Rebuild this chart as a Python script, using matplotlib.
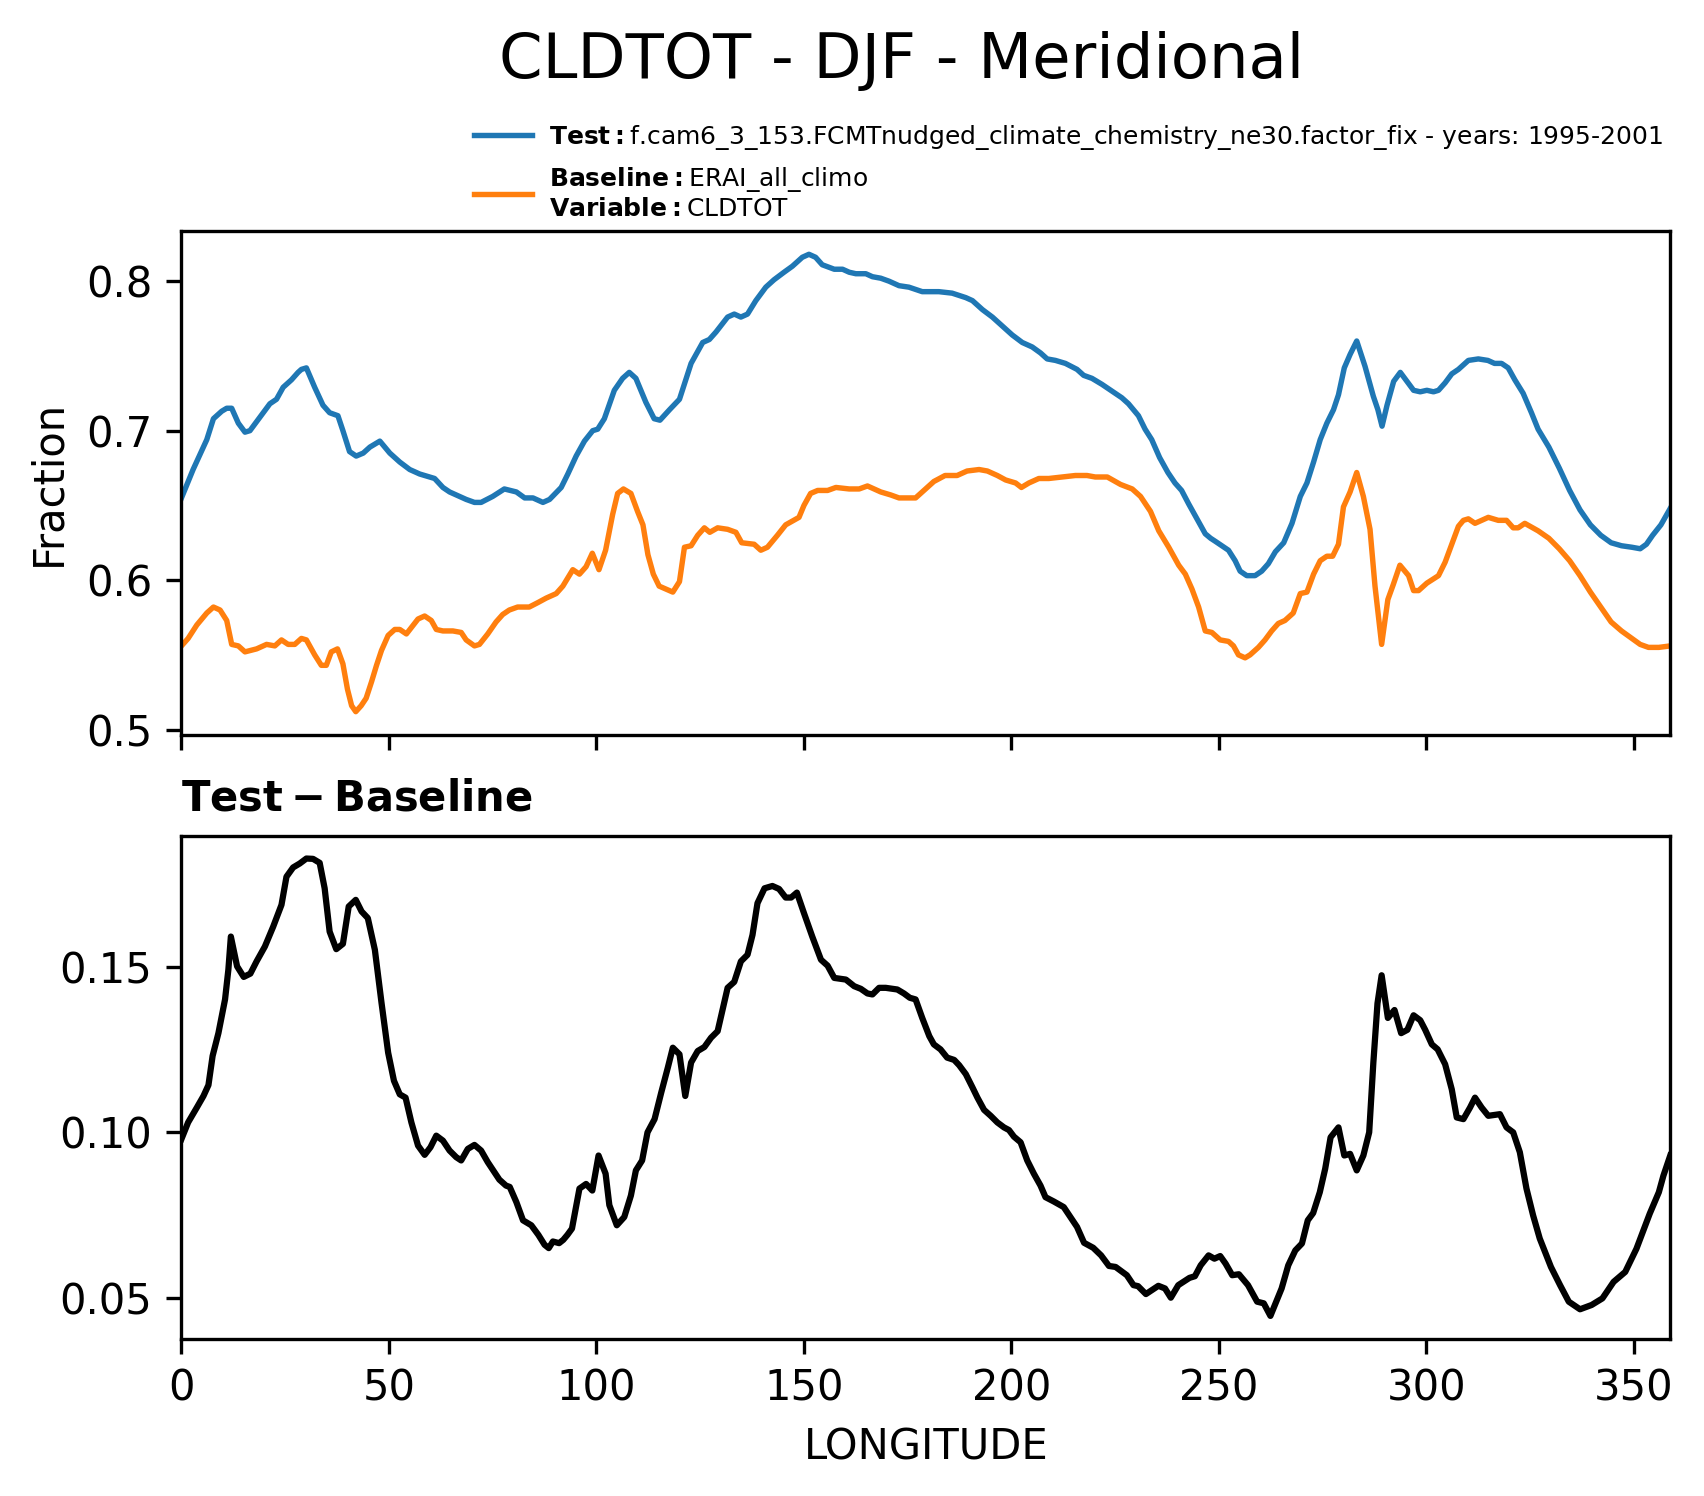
import matplotlib
matplotlib.use("Agg")
import matplotlib.pyplot as plt
import numpy as np

# values
test_lon = [0.0, 2.8, 6.1, 7.7, 9.7, 10.9, 12.1, 13.7, 15.3, 16.5, 18.9, 21.3, 22.9, 24.5,
            26.5, 28.1, 28.9, 30.1, 32.1, 34.1, 35.7, 37.7, 38.9, 40.5, 42.1, 43.8, 45.4,
            47.8, 50.2, 52.6, 55.0, 57.4, 59.8, 61.0, 63.0, 64.6, 67.0, 68.6, 70.6, 72.2,
            75.0, 77.8, 80.7, 82.7, 84.7, 87.1, 88.7, 91.5, 93.1, 95.1, 97.1, 99.1, 100.3,
            101.9, 104.3, 106.3, 107.9, 109.5, 111.9, 113.9, 115.3, 117.6, 120.0, 122.8,
            125.6, 127.2, 128.8, 131.6, 133.2, 134.8, 136.4, 138.4, 140.8, 142.8, 145.2,
            147.2, 149.6, 151.2, 152.8, 154.4, 157.3, 159.3, 160.9, 162.5, 164.9, 166.5,
            168.5, 170.5, 172.9, 175.3, 178.5, 182.5, 185.7, 189.0, 190.6, 193.0, 195.4,
            197.8, 200.2, 202.6, 205.0, 207.0, 208.6, 210.6, 213.0, 215.8, 217.4, 219.4,
            221.8, 223.4, 225.0, 226.6, 228.2, 230.6, 232.2, 233.8, 235.7, 237.7, 239.4,
            241.0, 242.7, 244.7, 246.7, 248.0, 249.1, 250.7, 252.3, 253.9, 255.1, 256.7,
            258.7, 260.3, 261.9, 263.6, 265.6, 267.6, 269.6, 271.2, 272.8, 274.4, 276.0,
            277.6, 278.8, 280.2, 281.6, 283.2, 285.2, 287.2, 288.3, 289.3, 290.5, 292.1,
            293.7, 295.3, 296.9, 298.5, 300.1, 301.7, 302.9, 304.5, 306.1, 307.7, 310.1,
            312.5, 314.8, 316.4, 318.1, 319.7, 321.3, 323.3, 325.3, 326.9, 329.5, 332.0,
            334.5, 337.0, 339.5, 342.0, 344.5, 347.0, 349.5, 351.5, 353.0, 354.5, 356.5,
            358.75]
test_val = [0.655, 0.674, 0.694, 0.708, 0.713, 0.715, 0.715, 0.705, 0.699, 0.700, 0.709,
            0.718, 0.721, 0.729, 0.734, 0.739, 0.741, 0.742, 0.729, 0.717, 0.712, 0.710,
            0.700, 0.686, 0.683, 0.685, 0.689, 0.693, 0.685, 0.679, 0.674, 0.671, 0.669,
            0.668, 0.662, 0.659, 0.656, 0.654, 0.652, 0.652, 0.656, 0.661, 0.659, 0.655,
            0.655, 0.652, 0.654, 0.662, 0.671, 0.683, 0.693, 0.700, 0.701, 0.708, 0.727,
            0.735, 0.739, 0.735, 0.719, 0.708, 0.707, 0.714, 0.721, 0.745, 0.759, 0.761,
            0.766, 0.776, 0.778, 0.776, 0.778, 0.787, 0.796, 0.801, 0.806, 0.810, 0.816,
            0.818, 0.816, 0.811, 0.808, 0.808, 0.806, 0.805, 0.805, 0.803, 0.802, 0.800,
            0.797, 0.796, 0.793, 0.793, 0.792, 0.789, 0.787, 0.781, 0.776, 0.770, 0.764,
            0.759, 0.756, 0.752, 0.748, 0.747, 0.745, 0.741, 0.737, 0.735, 0.731, 0.728,
            0.725, 0.722, 0.718, 0.710, 0.701, 0.694, 0.682, 0.672, 0.665, 0.660, 0.651,
            0.641, 0.631, 0.628, 0.626, 0.623, 0.620, 0.613, 0.606, 0.603, 0.603, 0.606,
            0.611, 0.619, 0.625, 0.638, 0.656, 0.665, 0.679, 0.694, 0.705, 0.714, 0.724,
            0.742, 0.751, 0.760, 0.743, 0.723, 0.714, 0.703, 0.717, 0.733, 0.739, 0.733,
            0.727, 0.726, 0.727, 0.726, 0.727, 0.732, 0.738, 0.741, 0.747, 0.748, 0.747,
            0.745, 0.745, 0.742, 0.734, 0.725, 0.712, 0.701, 0.689, 0.675, 0.660, 0.647,
            0.637, 0.630, 0.625, 0.623, 0.622, 0.621, 0.624, 0.630, 0.637, 0.648]

base_lon = [0.0, 1.6, 3.7, 6.1, 7.7, 9.3, 10.9, 12.1, 13.7, 15.3, 18.1, 20.5, 22.5, 24.1,
            25.7, 27.3, 28.9, 30.1, 32.1, 33.7, 34.9, 36.1, 37.6, 38.9, 40.0, 41.0, 42.0,
            43.3, 44.5, 45.8, 47.0, 48.2, 49.8, 51.4, 52.6, 54.2, 57.0, 58.6, 60.2, 61.4,
            63.0, 65.4, 67.4, 68.6, 70.6, 71.8, 73.8, 75.8, 77.4, 79.0, 81.0, 83.8, 85.9,
            87.9, 90.3, 91.9, 94.3, 95.9, 97.5, 99.0, 100.6, 102.2, 103.9, 105.1, 106.5,
            108.3, 109.9, 111.2, 112.4, 113.7, 115.1, 118.4, 120.0, 121.2, 122.8, 124.4,
            126.0, 127.3, 129.2, 131.6, 133.6, 135.0, 138.0, 139.6, 141.2, 143.6, 145.6,
            148.8, 150.0, 151.6, 153.3, 155.7, 157.7, 160.9, 163.3, 165.3, 168.5, 170.9,
            172.9, 174.9, 176.9, 178.5, 181.3, 184.0, 186.9, 189.3, 192.2, 194.2, 196.6,
            198.6, 201.0, 202.4, 204.2, 206.6, 209.0, 212.2, 215.4, 218.2, 220.2, 223.1,
            226.3, 229.1, 231.1, 233.5, 235.5, 237.9, 240.3, 241.9, 243.5, 245.1, 246.7,
            248.3, 250.3, 252.3, 253.5, 254.7, 256.3, 257.5, 259.5, 261.1, 262.7, 264.3,
            265.9, 267.9, 269.6, 271.2, 272.8, 274.4, 276.0, 277.4, 278.8, 280.0, 281.6,
            283.2, 284.8, 286.4, 287.6, 289.2, 290.7, 292.0, 293.6, 295.7, 296.9, 298.1,
            300.1, 302.9, 304.5, 306.1, 307.7, 308.9, 310.1, 311.7, 314.9, 317.3, 319.3,
            320.9, 322.1, 323.7, 326.9, 329.5, 332.0, 334.5, 337.0, 339.5, 342.0, 344.5,
            347.0, 349.5, 351.5, 353.5, 356.0, 358.75]
base_val = [0.556, 0.561, 0.570, 0.578, 0.582, 0.580, 0.573, 0.557, 0.556, 0.552, 0.554,
            0.557, 0.556, 0.560, 0.557, 0.557, 0.561, 0.560, 0.550, 0.543, 0.543, 0.552,
            0.554, 0.544, 0.527, 0.516, 0.512, 0.516, 0.521, 0.532, 0.543, 0.553, 0.563,
            0.567, 0.567, 0.564, 0.574, 0.576, 0.573, 0.567, 0.566, 0.566, 0.565, 0.560,
            0.556, 0.557, 0.564, 0.572, 0.577, 0.580, 0.582, 0.582, 0.585, 0.588, 0.591,
            0.596, 0.607, 0.604, 0.609, 0.618, 0.607, 0.620, 0.644, 0.658, 0.661, 0.658,
            0.646, 0.637, 0.617, 0.604, 0.596, 0.592, 0.599, 0.622, 0.623, 0.630, 0.635,
            0.632, 0.635, 0.634, 0.632, 0.625, 0.624, 0.620, 0.622, 0.630, 0.637, 0.642,
            0.650, 0.658, 0.660, 0.660, 0.662, 0.661, 0.661, 0.663, 0.659, 0.657, 0.655,
            0.655, 0.655, 0.659, 0.666, 0.670, 0.670, 0.673, 0.674, 0.673, 0.670, 0.667,
            0.665, 0.662, 0.665, 0.668, 0.668, 0.669, 0.670, 0.670, 0.669, 0.669, 0.664,
            0.661, 0.656, 0.646, 0.633, 0.622, 0.610, 0.604, 0.594, 0.582, 0.566, 0.565,
            0.560, 0.559, 0.556, 0.550, 0.548, 0.550, 0.555, 0.560, 0.566, 0.571, 0.573,
            0.578, 0.591, 0.592, 0.604, 0.613, 0.616, 0.616, 0.624, 0.649, 0.659, 0.672,
            0.656, 0.634, 0.596, 0.557, 0.587, 0.597, 0.610, 0.603, 0.593, 0.593, 0.598,
            0.603, 0.612, 0.624, 0.636, 0.640, 0.641, 0.638, 0.642, 0.640, 0.640, 0.635,
            0.635, 0.638, 0.633, 0.628, 0.621, 0.613, 0.603, 0.592, 0.582, 0.572, 0.566,
            0.561, 0.557, 0.555, 0.555, 0.556]

diff_lon = [0.0, 1.6, 3.7, 5.3, 6.5, 7.5, 8.9, 10.5, 11.3, 11.9, 13.4, 15.0, 16.6, 18.1,
            20.1, 22.1, 24.1, 25.3, 26.9, 28.5, 30.1, 31.7, 33.3, 34.5, 35.7, 37.3, 38.9,
            40.3, 42.0, 43.4, 44.9, 46.6, 48.2, 49.8, 51.2, 52.6, 54.0, 55.4, 57.0, 58.6,
            60.0, 61.4, 63.0, 64.6, 66.2, 67.4, 69.0, 70.6, 72.2, 73.8, 75.4, 76.6, 78.2,
            79.1, 80.7, 82.3, 84.3, 86.0, 87.5, 88.5, 89.5, 91.0, 92.0, 93.0, 94.1, 95.9,
            97.5, 99.0, 100.5, 102.2, 103.1, 104.9, 106.7, 108.3, 109.5, 111.0, 112.3,
            114.0, 115.6, 117.2, 118.4, 120.0, 121.4, 122.8, 124.4, 126.0, 127.6, 129.2,
            130.4, 131.6, 133.2, 134.8, 136.4, 137.6, 138.8, 140.5, 142.4, 144.0, 145.6,
            146.9, 148.3, 150.0, 152.0, 154.1, 155.7, 157.3, 160.1, 162.1, 163.7, 165.3,
            166.5, 168.1, 169.7, 172.5, 174.1, 175.5, 176.9, 178.5, 180.2, 181.3, 182.9,
            184.5, 186.2, 187.4, 189.0, 190.6, 191.8, 193.4, 195.0, 196.6, 198.2, 199.4,
            200.6, 202.2, 203.8, 205.4, 207.0, 208.2, 210.2, 212.6, 214.2, 215.8, 217.5,
            219.7, 221.6, 223.5, 225.1, 227.8, 229.4, 230.5, 232.4, 235.4, 237.0, 238.4,
            240.2, 242.9, 244.2, 245.6, 247.5, 248.9, 250.3, 251.6, 253.2, 254.8, 257.0,
            259.2, 260.8, 262.4, 265.1, 266.7, 268.4, 270.0, 271.4, 272.7, 274.3, 275.6,
            276.9, 278.8, 280.2, 281.6, 283.2, 284.8, 286.2, 287.2, 288.2, 289.2, 290.7,
            292.3, 293.9, 295.4, 296.9, 298.5, 299.7, 301.3, 302.7, 304.5, 306.1, 307.3,
            308.9, 310.5, 311.7, 313.3, 314.9, 317.7, 319.3, 320.9, 322.5, 324.1, 325.7,
            327.3, 330.0, 332.2, 334.3, 337.0, 339.8, 342.4, 345.1, 347.9, 350.6, 353.8,
            356.0, 357.1, 358.75]
diff_val = [0.098, 0.103, 0.1075, 0.111, 0.1143, 0.1231, 0.130, 0.1402, 0.1492, 0.1592,
            0.1502, 0.147, 0.148, 0.1517, 0.1562, 0.1622, 0.1688, 0.1773, 0.1801, 0.1813,
            0.1828, 0.1827, 0.1815, 0.1738, 0.1607, 0.1554, 0.157, 0.1683, 0.1703, 0.1668,
            0.1648, 0.1552, 0.1392, 0.1241, 0.1156, 0.1115, 0.1105, 0.103, 0.096, 0.0932,
            0.0955, 0.099, 0.0975, 0.0945, 0.0925, 0.0915, 0.095, 0.0962, 0.0945, 0.091,
            0.088, 0.0857, 0.0839, 0.0835, 0.0789, 0.0734, 0.0719, 0.069, 0.066, 0.065,
            0.067, 0.0665, 0.0675, 0.069, 0.0709, 0.083, 0.0844, 0.0824, 0.093, 0.0875,
            0.078, 0.0719, 0.0744, 0.0809, 0.0885, 0.0915, 0.100, 0.104, 0.112, 0.1196,
            0.1256, 0.1236, 0.111, 0.1211, 0.1246, 0.1258, 0.1286, 0.1306, 0.1371, 0.1437,
            0.1455, 0.1517, 0.1537, 0.1597, 0.1693, 0.1738, 0.1745, 0.1736, 0.171, 0.171,
            0.1725, 0.1663, 0.1592, 0.1522, 0.1504, 0.1467, 0.1462, 0.1442, 0.1434, 0.142,
            0.1417, 0.1437, 0.1437, 0.1432, 0.142, 0.1407, 0.1402, 0.1346, 0.1291, 0.1266,
            0.1251, 0.1226, 0.1219, 0.1203, 0.1176, 0.1136, 0.1105, 0.1068, 0.105, 0.103,
            0.1015, 0.1007, 0.0987, 0.097, 0.0915, 0.0875, 0.0839, 0.0804, 0.0791, 0.0774,
            0.0744, 0.0714, 0.0666, 0.0651, 0.0628, 0.0596, 0.0593, 0.0568, 0.0538, 0.0535,
            0.0511, 0.0536, 0.0528, 0.050, 0.0538, 0.056, 0.0565, 0.0598, 0.0628, 0.0618,
            0.0626, 0.0603, 0.0568, 0.0571, 0.0538, 0.0488, 0.0483, 0.0445, 0.0528, 0.0598,
            0.0643, 0.0664, 0.0734, 0.0756, 0.0819, 0.089, 0.0985, 0.1015, 0.093, 0.0935,
            0.0885, 0.093, 0.100, 0.121, 0.139, 0.1475, 0.1346, 0.137, 0.130, 0.131, 0.1354,
            0.1339, 0.131, 0.1266, 0.1251, 0.1206, 0.113, 0.1045, 0.104, 0.1075, 0.1105,
            0.1075, 0.105, 0.1055, 0.1015, 0.100, 0.094, 0.083, 0.0749, 0.0679, 0.0593,
            0.0538, 0.0488, 0.0465, 0.0478, 0.0498, 0.0548, 0.0578, 0.0648, 0.0754, 0.0819,
            0.0869, 0.093]

test_label = r"$\bf{Test}:$f.cam6_3_153.FCMTnudged_climate_chemistry_ne30.factor_fix - years: 1995-2001"
base_label = "$\\bf{Baseline}:$ERAI_all_climo\n$\\bf{Variable}:$CLDTOT"

plt.rcParams["font.size"] = 10

fig = plt.figure(figsize=(5.68, 4.9867), dpi=300)
ax1 = fig.add_axes([0.1065, 0.509, 0.8737, 0.3363])
ax2 = fig.add_axes([0.1065, 0.1051, 0.8737, 0.3363], sharex=ax1)

ax1.plot(test_lon, test_val, color="C0", linewidth=1.3, label=test_label)
ax1.plot(base_lon, base_val, color="C1", linewidth=1.3, label=base_label)
ax1.set_ylabel("Fraction")
ax1.tick_params(labelbottom=False)
ax1.legend(loc="lower left", bbox_to_anchor=(0.19, 1.0), borderaxespad=0,
           frameon=False, fontsize=6, handlelength=2.3, handletextpad=0.7,
           labelspacing=0.5)

ax2.plot(diff_lon, diff_val, color="black", linewidth=1.5)
ax2.set_title(r"$\bf{Test} - \bf{Baseline}$", loc="left", fontsize=10)
ax2.set_xlabel("LONGITUDE")
ax2.set_xlim(0, 358.75)

fig.text(0.529, 0.9479, "CLDTOT - DJF - Meridional", ha="center", va="baseline",
         fontsize=15)

fig.savefig("out.png", dpi=300)
